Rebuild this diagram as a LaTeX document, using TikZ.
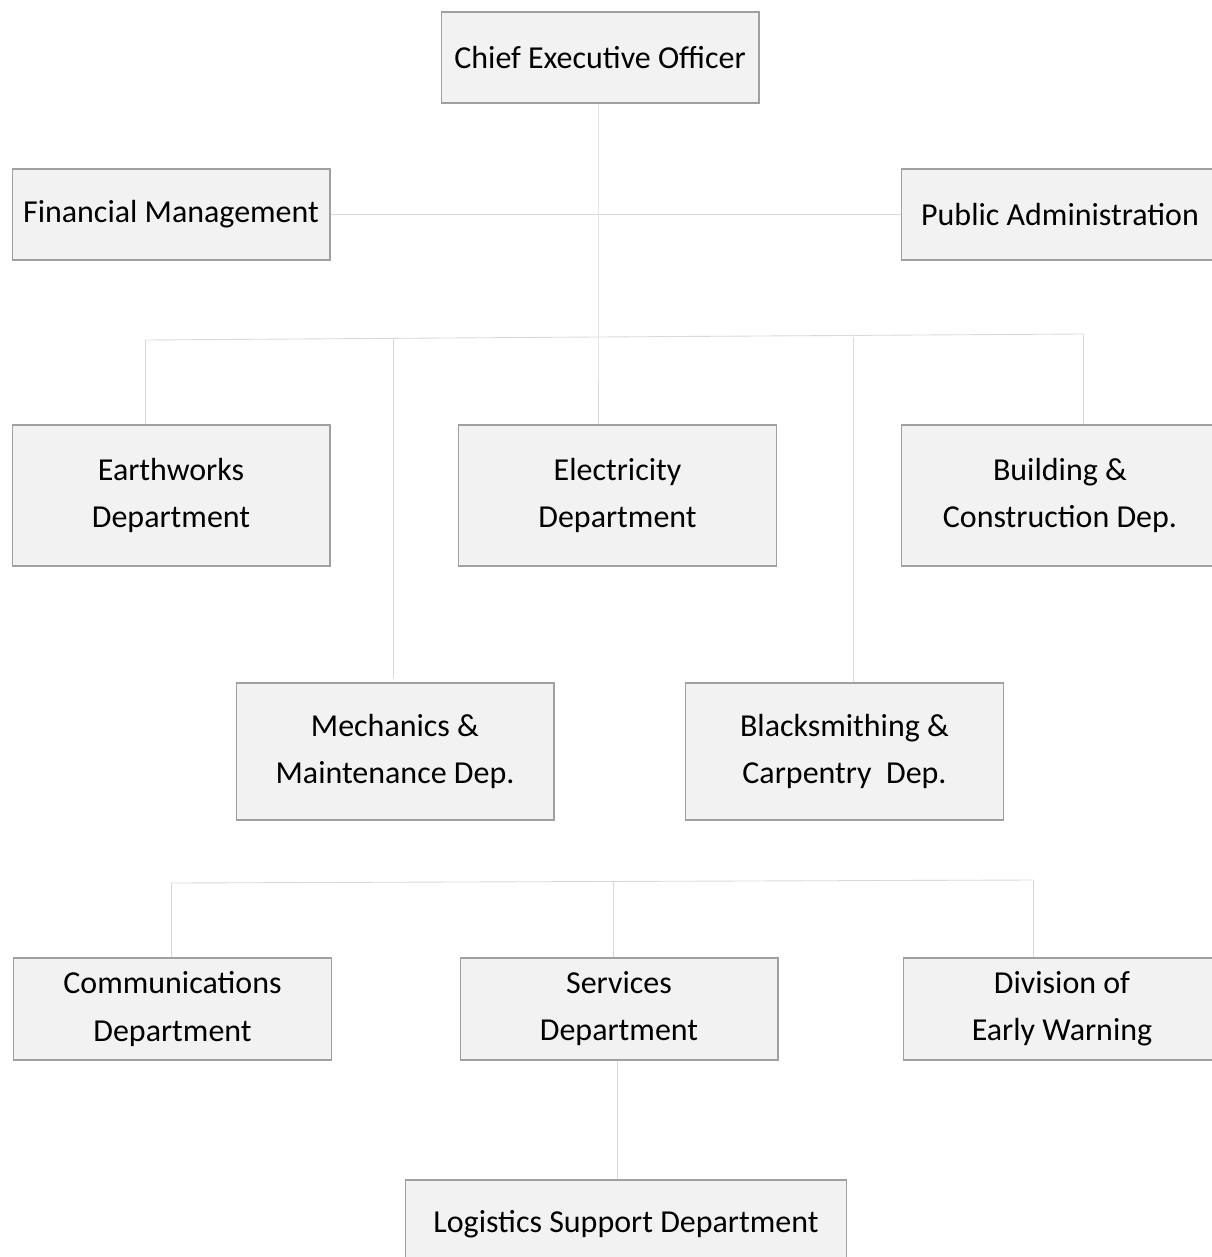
\documentclass[tikz,border=0pt]{standalone}
\usepackage{fontspec}
\setmainfont{Carlito}
\usepackage{xcolor}
\usepackage{tikz}
\usetikzlibrary{calc}
\definecolor{boxfill}{HTML}{F2F2F2}
\definecolor{boxline}{HTML}{A0A0A0}
\definecolor{wire}{HTML}{D9D9D9}
\tikzset{
  unit/.style={rectangle,draw=boxline,fill=boxfill,line width=0.6pt,inner sep=0pt,align=center,
    minimum width=6.36cm,font=\fontsize{18.2}{26.8}\selectfont},
  wire/.style={draw=wire,line width=0.5pt}
}

\begin{document}
\begin{tikzpicture}[x=0.02cm,y=-0.02cm]
        \useasboundingbox (0,0) rectangle (1212,1257);

        \node[unit,minimum height=1.82cm] (ceo) at (600,57.5){Chief Executive Officer};
        \node[unit,minimum height=1.82cm] (fin) at (171,214.5){Financial Management};
        \node[unit,minimum height=1.82cm] (pub) at (1060,214.5){Public Administration};

        \node[unit,minimum height=2.82cm] (earth) at (171,495.5){Earthworks\\Department};
        \node[unit,minimum height=2.82cm] (elec) at (617.5,495.5){Electricity\\Department};
        \node[unit,minimum height=2.82cm] (build) at (1060,495.5){Building \&\\Construction Dep.};

        \node[unit,minimum height=2.74cm] (mech) at (395,751.5){Mechanics \&\\Maintenance Dep.};
        \node[unit,minimum height=2.74cm] (smith) at (844.5,751.5){Blacksmithing \&\\Carpentry\ \ Dep.};

        \node[unit,minimum height=2.04cm] (comm) at (172.5,1009){Communications\\Department};
        \node[unit,minimum height=2.04cm] (serv) at (619,1009){Services\\Department};
        \node[unit,minimum height=2.04cm] (warn) at (1062,1009){Division of\\Early Warning};

        \node[unit,minimum width=8.84cm,minimum height=1.76cm] (logi) at (626,1224){Logistics Support Department};

        \coordinate (busL) at (145,340);
        \coordinate (busM) at (598,337);
        \coordinate (busR) at (1083,334);
        \coordinate (mechT) at (393,339);
        \coordinate (mechE) at (393,678);
        \coordinate (smithT) at (853,337);
        \coordinate (lowL) at (171,883);
        \coordinate (lowM) at (613,881.5);
        \coordinate (lowR) at (1033,880);

        \draw[wire] (ceo.south -| busM) -- (busM) -- (elec.north -| busM);
        \draw[wire] (fin.east) -- (pub.west);
        \draw[wire] (busL) -- (busM) -- (busR);
        \draw[wire] (busL) -- (earth.north -| busL);
        \draw[wire] (mechT) -- (mechE);
        \draw[wire] (smithT) -- (smith.north -| smithT);
        \draw[wire] (busR) -- (build.north -| busR);

        \draw[wire] (lowL) -- (lowR);
        \draw[wire] (lowL) -- (comm.north -| lowL);
        \draw[wire] (lowM) -- (serv.north -| lowM);
        \draw[wire] (lowR) -- (warn.north -| lowR);
        \draw[wire] (serv.south -| 617,0) -- (logi.north -| 617,0);
    \end{tikzpicture}
\end{document}
